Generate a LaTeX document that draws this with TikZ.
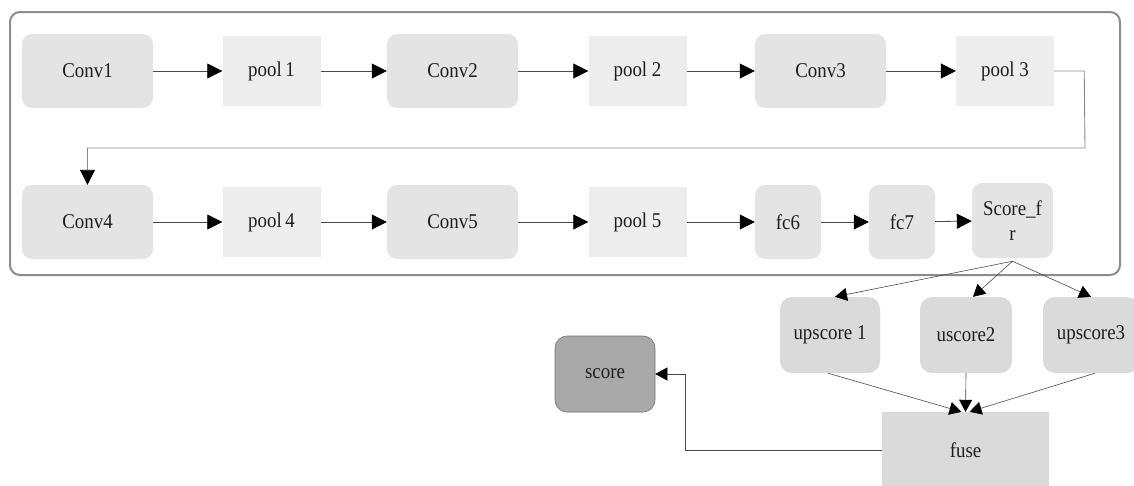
\documentclass[tikz,border=0pt]{standalone}
\usepackage{fontspec}
\setmainfont[FakeStretch=0.9]{Liberation Serif}
\usetikzlibrary{arrows.meta,calc}

\definecolor{convfill}{HTML}{E4E4E4}
\definecolor{poolfill}{HTML}{EDEDED}
\definecolor{upfill}{HTML}{DADADA}
\definecolor{scorefill}{HTML}{A9A9A9}
\definecolor{scoreedge}{HTML}{707070}
\definecolor{framegray}{HTML}{8C8C8C}
\definecolor{linegray}{HTML}{4A4A4A}
\definecolor{loopgray}{HTML}{8A8A8A}
\definecolor{textgray}{HTML}{1E1E1E}

\tikzset{
  base/.style={inner sep=0pt, text=textgray, align=center,
    font=\fontsize{21}{25}\selectfont},
  convbox/.style={base, fill=convfill, rounded corners=10pt,
    minimum width=131pt, minimum height=74pt},
  poolbox/.style={base, fill=poolfill, minimum width=98pt, minimum height=70pt},
  fcbox/.style={base, fill=convfill, rounded corners=10pt,
    minimum width=66pt, minimum height=74pt},
  upbox/.style={base, fill=upfill, rounded corners=12pt, minimum height=76pt},
  fusebox/.style={base, fill=upfill, minimum width=167pt, minimum height=76pt},
  scorebox/.style={base, fill=scorefill, draw=scoreedge, line width=0.6pt,
    rounded corners=12pt, minimum width=100pt, minimum height=76pt},
  frame/.style={draw=framegray, line width=2pt, rounded corners=10pt},
  link/.style={draw=linegray, line width=0.8pt,
    -{Triangle[length=15pt,width=15pt,color=black]}},
  looplink/.style={draw=loopgray, line width=0.9pt,
    -{Triangle[length=15pt,width=15pt,color=black]}},
  fanlink/.style={draw=linegray, line width=0.6pt,
    -{Triangle[length=12pt,width=13pt,color=black]}},
}

\begin{document}
\begin{tikzpicture}[x=1pt,y=-1pt]
  \useasboundingbox (0,0) rectangle (1134,485);

  % enclosing frame of the backbone
  \draw[frame] (10,12) rectangle (1120,275);

  % first row
  \node[convbox] (conv1) at (87.5,71)  {Conv1};
  \node[poolbox] (pool1) at (271.5,71) {pool\,1};
  \node[convbox] (conv2) at (452.5,71) {Conv2};
  \node[poolbox] (pool2) at (637.5,71) {pool 2};
  \node[convbox] (conv3) at (820.5,71) {Conv3};
  \node[poolbox] (pool3) at (1005,71)  {pool 3};

  % second row
  \node[convbox] (conv4) at (87.5,222)  {Conv4};
  \node[poolbox] (pool4) at (271.5,222) {pool\,4};
  \node[convbox] (conv5) at (452.5,222) {Conv5};
  \node[poolbox] (pool5) at (637.5,222) {pool 5};
  \node[fcbox]   (fc6)   at (788,222)   {fc6};
  \node[fcbox]   (fc7)   at (902,222)   {fc7};
  \node[base, fill=convfill, rounded corners=10pt, minimum width=81pt,
        minimum height=75pt] (scorefr) at (1012.5,220.5) {Score\_f\\r};

  % upsampling branches
  \node[upbox, minimum width=100pt] (up1) at (830,335)   {upscore 1};
  \node[upbox, minimum width=92pt]  (up2) at (966,335)   {uscore2};
  \node[upbox, minimum width=96pt]  (up3) at (1091,335)  {upscore3};
  \node[fusebox] (fuse)  at (965.5,450) {fuse};
  \node[scorebox] (score) at (605,374)  {score};

  % connectors along the rows
  \draw[link] (conv1) -- (pool1);
  \draw[link] (pool1) -- (conv2);
  \draw[link] (conv2) -- (pool2);
  \draw[link] (pool2) -- (conv3);
  \draw[link] (conv3) -- (pool3);
  \draw[link] (conv4) -- (pool4);
  \draw[link] (pool4) -- (conv5);
  \draw[link] (conv5) -- (pool5);
  \draw[link] (pool5) -- (fc6);
  \draw[link] (fc6) -- (fc7);
  \draw[link] (fc7) -- (scorefr);

  % wrap from the first row to the second
  \coordinate (wrapA) at ($(pool3.east)+(30,0)$);
  \coordinate (wrapB) at (1085,148);
  \draw[looplink] (pool3.east) -- (wrapA) -- (wrapB) -| (conv4.north);

  % fan-out from Score_fr
  \coordinate (fanout) at ($(scorefr.south)+(0,3)$);
  \draw[fanlink] (fanout) -- ($(up1.north)+(5,0)$);
  \draw[fanlink] (fanout) -- ($(up2.north)+(7,0)$);
  \draw[fanlink] (fanout) -- (up3.north);

  % fan-in to fuse
  \draw[fanlink] ($(up1.south)+(-2,0)$) -- ($(fuse.north)+(-4,0)$);
  \draw[fanlink] (up2.south) -- (fuse.north);
  \draw[fanlink] ($(up3.south)+(4,0)$) -- ($(fuse.north)+(4,0)$);

  % fuse to score
  \coordinate (bend) at (685,450);
  \draw[fanlink] (fuse.west) -- (bend) |- (score.east);
\end{tikzpicture}
\end{document}
